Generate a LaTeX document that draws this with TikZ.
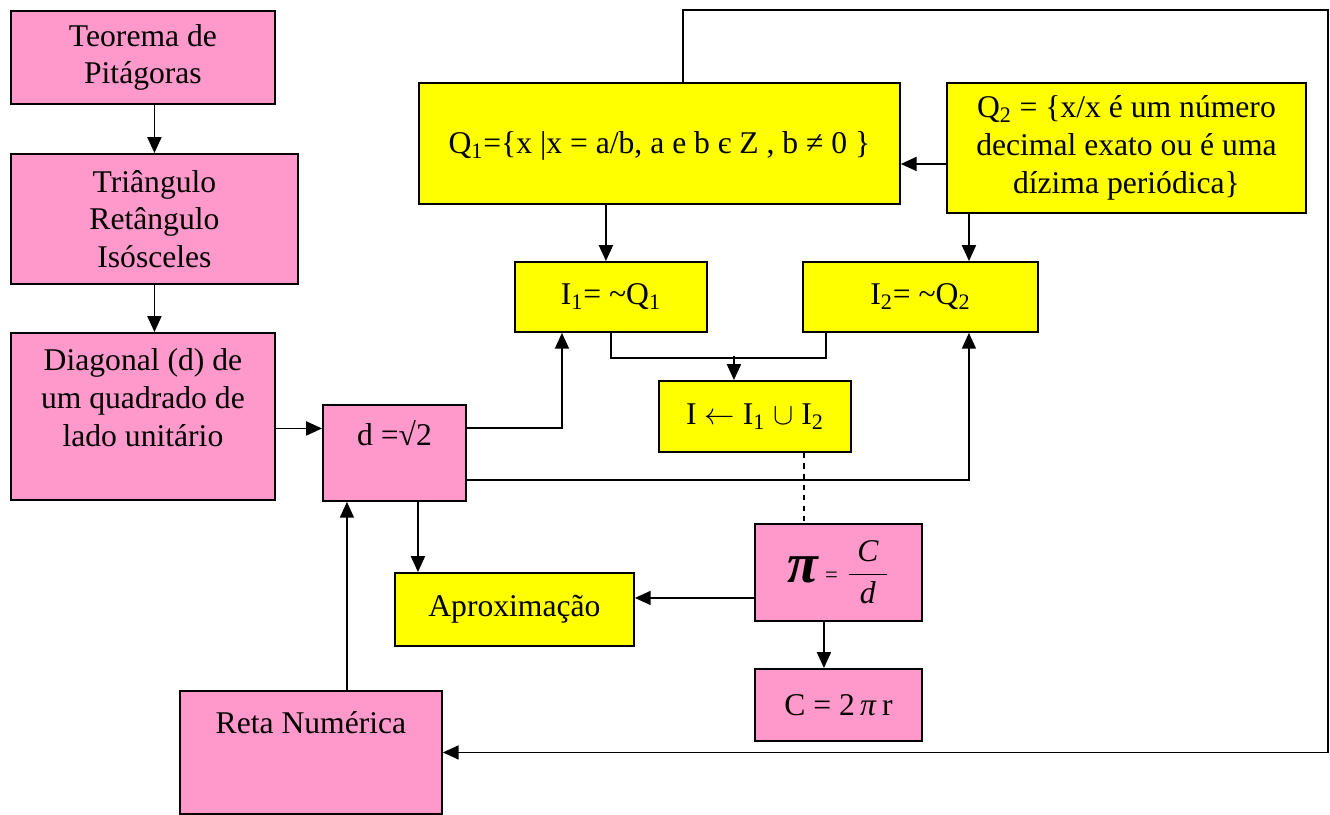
\documentclass[tikz,border=0pt]{standalone}
\usepackage{fontspec}
\setmainfont{Liberation Serif}
\usetikzlibrary{positioning,arrows.meta,calc}
\definecolor{rosa}{HTML}{FF99CC}
\definecolor{amarelo}{HTML}{FFFF00}

\begin{document}
\begin{tikzpicture}[
    x=0.02cm, y=-0.02cm,
    box/.style={draw, line width=1.1pt, anchor=north west, align=center, inner sep=2pt, font=\fontsize{18}{21.5}\selectfont},
    rosabox/.style={box, fill=rosa},
    amabox/.style={box, fill=amarelo},
    arr/.style={-{Triangle[length=9pt, width=8pt]}, line width=0.9pt}
  ]
    \useasboundingbox (0,0) rectangle (1330,815);

    % coluna da esquerda
    \node[rosabox, minimum width=5.28cm, minimum height=1.86cm] (teo) at (10,10) {Teorema de\\Pitágoras};
    \node[rosabox, minimum width=5.74cm, minimum height=2.6cm] (tri) at (10,153) {Triângulo\\Retângulo\\Isósceles};
    \node[rosabox, minimum width=5.28cm, minimum height=3.34cm, text depth=0.75cm] (diag) at (10,332) {Diagonal (d) de\\um quadrado de\\lado unitário};
    \node[rosabox, minimum width=2.86cm, minimum height=1.92cm, text depth=0.8cm] (raiz) at (322,404) {d =√2};
    \node[rosabox, minimum width=5.24cm, minimum height=2.46cm, text depth=1.2cm] (reta) at (179,690) {Reta Numérica};

    % conjuntos
    \node[amabox, minimum width=9.62cm, minimum height=2.42cm, text height=0.55cm] (qum) at (418,82) {Q\textsubscript{1}=\{x |x = a/b, a e b є Z , b ≠ 0 \}};
    \node[amabox, minimum width=7.18cm, minimum height=2.6cm] (qdois) at (946,82) {Q\textsubscript{2} = \{x/x é um número\\decimal exato ou é uma\\dízima periódica\}};
    \node[amabox, minimum width=3.84cm, minimum height=1.4cm] (ium) at (514,261) {I\textsubscript{1}= \textasciitilde Q\textsubscript{1}};
    \node[amabox, minimum width=4.7cm, minimum height=1.4cm] (idois) at (802,261) {I\textsubscript{2}= \textasciitilde Q\textsubscript{2}};
    \node[amabox, minimum width=3.84cm, minimum height=1.42cm] (uniao) at (658,380) {I \(\leftarrow\) I\textsubscript{1} \(\cup\) I\textsubscript{2}};

    % pi
    \node[rosabox, minimum width=3.34cm, minimum height=1.94cm] (pi) at (754,523) {{\fontsize{32}{32}\selectfont\textbf{\textit{π}}}\,{\fontsize{13}{15}\selectfont=}\;{\fontsize{18}{20}\selectfont\(\displaystyle\frac{\;\textit{C}\rule[-5pt]{0pt}{5pt}\;}{\textit{d}\rule{0pt}{15pt}}\)}};
    \node[amabox, minimum width=4.78cm, minimum height=1.46cm] (aprox) at (394,572) {Aproximação};
    \node[rosabox, minimum width=3.34cm, minimum height=1.44cm] (circ) at (754,668) {C = 2\,\textit{π}\,r};

    \coordinate (volta) at (1328,10);

    % setas
    \draw[arr] (tri.north |- teo.south) -- (tri.north);
    \draw[arr] (tri.south) -- (tri.south |- diag.north);
    \draw[arr] ([yshift=-0.24cm]diag.east) -- ([yshift=-0.24cm]diag.east -| raiz.west);
    \draw[arr] ([yshift=-0.48cm]raiz.north east) -| ([xshift=-0.98cm]ium.south);
    \draw[arr] ([yshift=0.44cm]raiz.south east) -| ([xshift=0.97cm]idois.south);
    \draw[arr] ([xshift=0.47cm]raiz.south) -- ([xshift=0.47cm]raiz.south |- aprox.north);
    \draw[arr] ([yshift=-0.51cm]pi.west) -- ([yshift=-0.51cm]pi.west -| aprox.east);
    \draw[arr] ([xshift=-0.29cm]pi.south) -- ([xshift=-0.29cm]pi.south |- circ.north);
    \draw[arr] ([xshift=0.72cm]reta.north) -- ([xshift=0.72cm]reta.north |- raiz.south);
    \draw[arr] ([xshift=0.47cm]qum.north) |- (volta) |- (reta.east);
    \draw[arr] ([yshift=-0.32cm]qdois.west) -- ([yshift=-0.32cm]qdois.west -| qum.east);
    \draw[arr] ([xshift=-1.07cm]qum.south) -- ([xshift=-1.07cm]qum.south |- ium.north);
    \draw[arr] ([xshift=-3.15cm]qdois.south) -- ([xshift=-3.15cm]qdois.south |- idois.north);
    \draw[line width=0.9pt] (ium.south) -- ++(0,-0.5cm) -| ([xshift=-1.89cm]idois.south);
    \draw[arr] ([xshift=-0.42cm, yshift=0.48cm]uniao.north) -- ([xshift=-0.42cm]uniao.north);
    \draw[dashed, line width=0.9pt] ([xshift=0.98cm]uniao.south) -- ([xshift=0.98cm]uniao.south |- pi.north);
  \end{tikzpicture}
\end{document}
